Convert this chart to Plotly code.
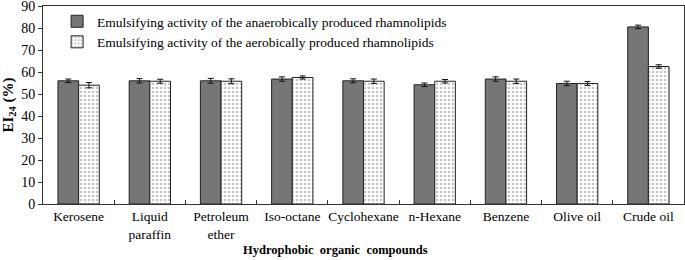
import plotly.graph_objects as go

categories = ["Kerosene", "Liquid<br>paraffin", "Petroleum<br>ether", "Iso-octane", "Cyclohexane",
              "n-Hexane", "Benzene", "Olive oil", "Crude oil"]
anaerobic = [56, 56, 56, 56.8, 56, 54.2, 56.8, 54.8, 80.5]
anaerobic_err = [0.8, 1.0, 1.1, 1.0, 0.9, 0.8, 1.0, 1.0, 0.8]
aerobic = [54, 55.8, 55.8, 57.5, 55.8, 55.8, 55.8, 54.8, 62.5]
aerobic_err = [1.2, 0.9, 1.1, 0.7, 1.0, 0.8, 1.0, 0.9, 0.8]
yticks = [0, 10, 20, 30, 40, 50, 60, 70, 80, 90]

font = "Liberation Serif"

fig = go.Figure()
fig.add_trace(go.Bar(
    x=categories, y=anaerobic, name="Emulsifying activity of the anaerobically produced rhamnolipids",
    marker=dict(color="#767676", line=dict(color="#222", width=1)),
    error_y=dict(type="data", array=anaerobic_err, color="#111", thickness=1, width=3),
))
fig.add_trace(go.Bar(
    x=categories, y=aerobic, name="Emulsifying activity of the aerobically produced rhamnolipids",
    marker=dict(color="white", line=dict(color="#222", width=1),
                pattern=dict(shape=".", fgcolor="#8a8a8a", bgcolor="white", size=4, solidity=0.35)),
    error_y=dict(type="data", array=aerobic_err, color="#111", thickness=1, width=3),
))

fig.update_layout(
    width=685, height=260,
    margin=dict(l=43, r=1, t=6, b=56, autoexpand=False),
    paper_bgcolor="white", plot_bgcolor="white",
    barmode="group", bargap=0.42, bargroupgap=0,
    font=dict(family=font, size=13, color="black"),
    showlegend=True,
    legend=dict(x=0.022, y=1.0, xanchor="left", yanchor="top", bgcolor="rgba(0,0,0,0)",
                font=dict(size=13.5), itemwidth=30, tracegroupgap=0),
    xaxis=dict(
        showline=True, linecolor="#333", linewidth=1, mirror=True,
        ticks="inside", tickson="boundaries", ticklen=4, tickcolor="#333",
        tickangle=0, automargin=False,
        tickfont=dict(size=13.5),
    ),
    yaxis=dict(
        range=[0, 90], tickvals=yticks, showgrid=False, zeroline=False,
        showline=True, linecolor="#333", linewidth=1, mirror=True,
        ticks="outside", ticklen=4, tickcolor="#333", automargin=False,
        ticklabeloverflow="allow",
        tickfont=dict(size=14), title=dict(text="<b>EI<sub>24</sub> (%)</b>", font=dict(size=15), standoff=6),
    ),
    annotations=[dict(
        text="<b>Hydrophobic  organic  compounds</b>", xref="paper", yref="paper",
        x=0.457, y=-0.232, xanchor="center", yanchor="middle", showarrow=False,
        font=dict(size=12.5),
    )],
)

fig.write_html("out.html", config={"displayModeBar": False},
               post_script="document.body.style.margin='0';document.body.style.overflow='hidden';")
